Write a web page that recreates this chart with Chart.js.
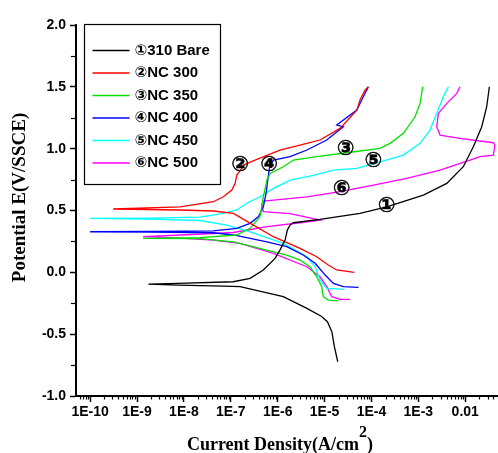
<!DOCTYPE html>
<html>
<head>
<meta charset="utf-8">
<script src="https://cdn.jsdelivr.net/npm/chart.js@4"></script>
<style>
  body { margin: 0; background: #fff; }
  #wrap { width: 498px; height: 453px; }
</style>
</head>
<body>
<div id="wrap"><canvas id="chart" width="498" height="453"></canvas></div>
<script>
// series: current density (A/cm2) and potential (V/SSCE), traced cathodic -> Ecorr -> anodic
const bareI = [1.91e-5, 1.62e-5, 1.43e-5, 1.15e-5, 8.5e-6, 4.2e-6, 1.32e-6, 1.58e-7, 6.95e-8, 7.4e-9, 1.75e-9, 7.4e-9, 1.13e-7, 2.58e-7, 4.95e-7, 8.8e-7, 1.12e-6, 1.44e-6, 1.61e-6, 1.84e-6, 2.16e-6, 8.0e-6, 5.7e-5, 2.12e-4, 1.28e-3, 4.04e-3, 9.1e-3, 1.49e-2, 2.25e-2, 2.87e-2, 3.27e-2];
const bareE = [-0.723, -0.601, -0.480, -0.399, -0.355, -0.291, -0.197, -0.116, -0.111, -0.103, -0.095, -0.090, -0.076, -0.049, 0.019, 0.113, 0.180, 0.261, 0.342, 0.382, 0.401, 0.428, 0.477, 0.530, 0.625, 0.719, 0.854, 1.015, 1.177, 1.339, 1.500];

const nc300I = [4.3e-5, 1.82e-5, 1.2e-5, 6.8e-6, 3.0e-6, 8.1e-7, 3.03e-7, 1.14e-7, 4.26e-8, 8.3e-9, 3.1e-10, 8.3e-9, 4.26e-8, 6.95e-8, 1.05e-7, 1.24e-7, 1.34e-7, 1.72e-7, 1.86e-7, 3.3e-7, 1.12e-6, 4.2e-6, 8.0e-6, 2.14e-5, 4.87e-5, 5.7e-5, 7.3e-5, 8.6e-5];
const nc300E = [0.000, 0.019, 0.059, 0.126, 0.194, 0.288, 0.382, 0.477, 0.496, 0.504, 0.512, 0.530, 0.571, 0.611, 0.665, 0.720, 0.787, 0.841, 0.867, 0.908, 0.989, 1.043, 1.070, 1.164, 1.312, 1.393, 1.473, 1.500];

const nc350I = [1.97e-5, 1.2e-5, 9.4e-6, 8.7e-6, 6.8e-6, 4.9e-6, 3.0e-6, 1.56e-6, 5.9e-7, 1.14e-7, 2.2e-8, 1.35e-9, 2.2e-8, 1.34e-7, 2.58e-7, 4.2e-7, 4.95e-7, 5.9e-7, 6.9e-7, 1.32e-6, 2.16e-6, 6.8e-6, 2.97e-5, 1.52e-4, 2.5e-4, 4.8e-4, 8.5e-4, 1.09e-3, 1.24e-3];
const nc350E = [-0.230, -0.224, -0.197, -0.116, -0.036, 0.045, 0.099, 0.140, 0.180, 0.247, 0.273, 0.275, 0.281, 0.302, 0.356, 0.449, 0.611, 0.746, 0.800, 0.854, 0.908, 0.935, 0.967, 1.002, 1.043, 1.124, 1.258, 1.366, 1.500];

const nc400I = [5.3e-5, 2.52e-5, 1.54e-5, 1.03e-5, 6.3e-6, 3.5e-6, 1.56e-6, 5.9e-7, 1.14e-7, 4.26e-8, 1.9e-9, 1e-10, 1.9e-9, 4.26e-8, 1.34e-7, 2.58e-7, 3.87e-7, 4.95e-7, 5.66e-7, 6.15e-7, 6.65e-7, 8.1e-7, 1.84e-6, 4.2e-6, 1.11e-5, 2.52e-5, 1.82e-5, 4.87e-5, 6.7e-5, 8.6e-5];
const nc400E = [-0.121, -0.116, -0.089, -0.022, 0.073, 0.140, 0.207, 0.247, 0.302, 0.320, 0.326, 0.328, 0.331, 0.336, 0.356, 0.396, 0.449, 0.530, 0.639, 0.746, 0.841, 0.908, 0.935, 0.989, 1.070, 1.177, 1.191, 1.312, 1.420, 1.500];

const nc450I = [2.64e-5, 1.11e-5, 8.0e-6, 6.3e-6, 4.2e-6, 1.32e-6, 2.58e-7, 8.2e-8, 2.2e-8, 1.9e-9, 1e-10, 1.9e-9, 2.2e-8, 6.95e-8, 1.34e-7, 2.19e-7, 4.2e-7, 8.1e-7, 1.84e-6, 4.9e-6, 1.54e-5, 4.87e-5, 1.52e-4, 4.8e-4, 1.09e-3, 1.77e-3, 2.47e-3, 3.41e-3, 4.37e-3];
const nc450E = [-0.137, -0.129, -0.062, 0.045, 0.126, 0.234, 0.328, 0.382, 0.419, 0.431, 0.437, 0.439, 0.447, 0.477, 0.504, 0.558, 0.611, 0.679, 0.746, 0.778, 0.827, 0.841, 0.894, 0.948, 1.043, 1.150, 1.285, 1.420, 1.500];

const nc500I = [3.5e-5, 2.14e-5, 1.43e-5, 1.11e-5, 8.0e-6, 4.2e-6, 8.1e-7, 1.58e-7, 4.26e-8, 8.3e-9, 1.35e-9, 8.3e-9, 4.26e-8, 1.14e-7, 5.9e-7, 3.0e-6, 8.0e-6, 1.84e-6, 4.95e-7, 4.58e-7, 4.95e-7, 8.1e-7, 4.2e-6, 2.14e-5, 1.1e-4, 5.66e-4, 2.9e-3, 1.26e-2, 2.07e-2, 3.97e-2, 4.3e-2, 3.97e-2, 7.74e-3, 2.9e-3, 2.47e-3, 2.67e-3, 4.04e-3, 6.6e-3, 7.74e-3];
const nc500E = [-0.218, -0.218, -0.197, -0.116, -0.036, 0.045, 0.154, 0.234, 0.261, 0.277, 0.289, 0.302, 0.314, 0.322, 0.369, 0.401, 0.423, 0.475, 0.490, 0.544, 0.576, 0.584, 0.611, 0.652, 0.706, 0.760, 0.827, 0.908, 0.935, 0.948, 1.029, 1.048, 1.083, 1.110, 1.177, 1.285, 1.366, 1.447, 1.500];

const seriesNames = ['\u2460310 Bare', '\u2461NC 300', '\u2462NC 350', '\u2463NC 400', '\u2464NC 450', '\u2465NC 500'];
const seriesColors = ['#000000', '#ff0000', '#00e000', '#0000ff', '#00ffff', '#ff00ff'];

// axis ticks
const xTickValues = [1e-10, 1e-9, 1e-8, 1e-7, 1e-6, 1e-5, 1e-4, 1e-3, 1e-2];
const xTickLabels = ['1E-10', '1E-9', '1E-8', '1E-7', '1E-6', '1E-5', '1E-4', '1E-3', '0.01'];

// circled curve markers on the plot
const markLabels = ['\u2460', '\u2461', '\u2462', '\u2463', '\u2464', '\u2465'];
const markI = [2.1e-4, 1.58e-7, 2.8e-5, 6.6e-7, 1.1e-4, 2.3e-5];
const markE = [0.53, 0.86, 0.99, 0.86, 0.894, 0.67];

const allI = [bareI, nc300I, nc350I, nc400I, nc450I, nc500I];
const allE = [bareE, nc300E, nc350E, nc400E, nc450E, nc500E];

const datasets = allI.map((cur, k) => ({
    label: seriesNames[k],
    data: cur.map((v, i) => ({ x: v, y: allE[k][i] })),
    showLine: true,
    borderColor: seriesColors[k],
    backgroundColor: seriesColors[k],
    borderWidth: 1.3,
    pointRadius: 0,
    fill: false,
    tension: 0
}));

const tickFont = { family: "'Liberation Sans', Arial, sans-serif", size: 14, weight: 'bold' };

// minor ticks, legend box, markers and axis titles
const extras = {
    id: 'extras',
    afterDraw(chart) {
        const ctx = chart.ctx;
        const area = chart.chartArea;
        const xs = chart.scales.x;
        const ys = chart.scales.y;
        ctx.save();
        ctx.strokeStyle = '#000';
        ctx.lineWidth = 1.2;

        // minor x ticks
        for (let d = -11; d <= -2; d++) {
            for (let m = 2; m <= 9; m++) {
                const v = m * Math.pow(10, d);
                if (v < xs.min || v > xs.max) continue;
                const px = Math.round(xs.getPixelForValue(v)) + 0.5;
                ctx.beginPath();
                ctx.moveTo(px, area.bottom);
                ctx.lineTo(px, area.bottom + 3.5);
                ctx.stroke();
            }
        }
        // minor y ticks
        for (let v = -0.75; v < 2; v += 0.5) {
            const py = Math.round(ys.getPixelForValue(v)) + 0.5;
            ctx.beginPath();
            ctx.moveTo(area.left, py);
            ctx.lineTo(area.left - 5, py);
            ctx.stroke();
        }

        // legend box
        const lx = area.left + 8.5, ly = area.top - 0.5, lw = 136, lh = 160;
        ctx.lineWidth = 1.2;
        ctx.strokeRect(lx, ly, lw, lh);
        ctx.textBaseline = 'middle';
        ctx.textAlign = 'left';
        ctx.font = "bold 15px 'Liberation Sans', Arial, 'DejaVu Sans', sans-serif";
        seriesNames.forEach((name, i) => {
            const ry = ly + 26 + i * 22.5;
            ctx.strokeStyle = seriesColors[i];
            ctx.lineWidth = 1.5;
            ctx.beginPath();
            ctx.moveTo(lx + 8, ry);
            ctx.lineTo(lx + 45, ry);
            ctx.stroke();
            ctx.fillStyle = '#000';
            ctx.fillText(name, lx + 50, ry);
        });

        // circled markers (bold, thick ring)
        ctx.font = "bold 21px 'DejaVu Sans', sans-serif";
        ctx.textAlign = 'center';
        ctx.fillStyle = '#000';
        ctx.strokeStyle = '#000';
        ctx.lineWidth = 0.45;
        markLabels.forEach((t, i) => {
            const px = xs.getPixelForValue(markI[i]);
            const py = ys.getPixelForValue(markE[i]);
            ctx.fillText(t, px, py);
            ctx.strokeText(t, px, py);
        });

        // y title
        ctx.save();
        ctx.translate(20, (area.top + area.bottom) / 2 - 13);
        ctx.rotate(-Math.PI / 2);
        ctx.font = "bold 19px 'Liberation Serif', 'Times New Roman', serif";
        ctx.textAlign = 'center';
        ctx.textBaseline = 'middle';
        ctx.fillText('Potential E(V/SSCE)', 0, 0);
        ctx.restore();

        // x title with superscript
        const big = "bold 18px 'Liberation Serif', 'Times New Roman', serif";
        const small = "bold 16px 'Liberation Serif', 'Times New Roman', serif";
        const p1 = 'Current Density(A/cm', p2 = '2', p3 = ')';
        ctx.textAlign = 'left';
        ctx.textBaseline = 'alphabetic';
        ctx.font = big;
        const w1 = ctx.measureText(p1).width, w3 = ctx.measureText(p3).width;
        ctx.font = small;
        const w2 = ctx.measureText(p2).width;
        let tx = (area.left + area.right) / 2 - 7 - (w1 + w2 + w3) / 2;
        const base = area.bottom + 54;
        ctx.font = big;
        ctx.fillText(p1, tx, base);
        ctx.font = small;
        ctx.fillText(p2, tx + w1, base - 13);
        ctx.font = big;
        ctx.fillText(p3, tx + w1 + w2, base);
        ctx.restore();
    }
};

new Chart(document.getElementById('chart'), {
    type: 'scatter',
    data: { datasets: datasets },
    options: {
        responsive: false,
        animation: false,
        layout: { padding: { top: 25, left: 0, right: 0, bottom: 0 } },
        plugins: { legend: { display: false }, tooltip: { enabled: false } },
        scales: {
            x: {
                type: 'logarithmic',
                min: 5e-11,
                max: 5e-2,
                border: { display: true, color: '#000', width: 2 },
                grid: { drawOnChartArea: false, drawTicks: true, tickLength: 6, tickWidth: 1.5, tickColor: '#000' },
                ticks: {
                    autoSkip: false, maxRotation: 0, padding: 2, color: '#000', font: tickFont,
                    callback: (v, i) => xTickLabels[i]
                },
                afterBuildTicks: s => { s.ticks = xTickValues.map(v => ({ value: v })); },
                afterFit: s => { s.height = 57; }
            },
            y: {
                min: -1,
                max: 2,
                border: { display: true, color: '#000', width: 2 },
                grid: { drawOnChartArea: false, drawTicks: true, tickLength: 6, tickWidth: 1.5, tickColor: '#000' },
                ticks: {
                    stepSize: 0.5, padding: 4, color: '#000', font: tickFont,
                    callback: v => v.toFixed(1)
                },
                afterFit: s => { s.width = 76; }
            }
        }
    },
    plugins: [extras]
});
</script>
</body>
</html>
